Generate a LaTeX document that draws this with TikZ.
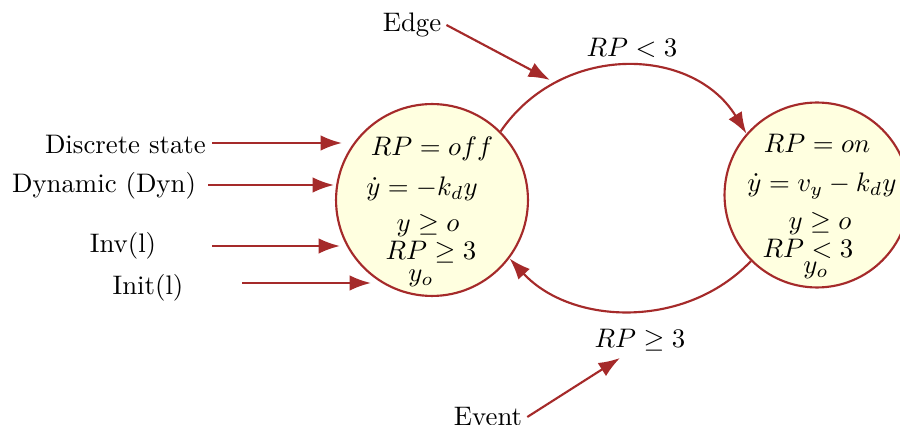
\documentclass[tikz,border=0pt]{standalone}
\usetikzlibrary{arrows.meta}
\definecolor{edgecol}{HTML}{A52A2A}
\definecolor{statefill}{HTML}{FFFFE0}
\begin{document}
\begin{tikzpicture}[x=0.3731pt,y=-0.3731pt,
  statebox/.style={circle,draw=edgecol,fill=statefill,line width=0.8pt,inner sep=0pt},
  conn/.style={draw=edgecol,line width=0.8pt,-{Latex[length=8pt,width=5.8pt]}},
  lbl/.style={inner sep=1pt},
  inlbl/.style={inner sep=0pt,font=\fontsize{10.3}{12}\selectfont}]
\useasboundingbox (0,0) rectangle (900,425);
% states
\node[statebox,minimum size=71.6pt] (L) at (432,200) {};
\node[statebox,minimum size=69pt] (R) at (817,195) {};
% left state contents
\node[inlbl] (l1) at (432,149) {$RP = off$};
\node[inlbl] (l2) at (422,189) {$\dot y = -k_d y$};
\node[inlbl] (l3) at (428,226) {$y \geq o$};
\node[inlbl] (l4) at (431,252) {$RP \geq 3$};
\node[inlbl] (l5) at (421,278) {$y_o$};
% right state contents
\node[inlbl] (r1) at (817,143) {$RP = on$};
\node[inlbl] (r2) at (822,186) {$\dot y = v_y - k_d y$};
\node[inlbl] (r3) at (820,224) {$y \geq o$};
\node[inlbl] (r4) at (808,249) {$RP < 3$};
\node[inlbl] (r5) at (816,270) {$y_o$};
% transitions
\draw[conn] (L.45) .. controls (562,42) and (693,46) .. (R.139);
\draw[conn] (R.225) .. controls (685,330) and (571,325) .. (L.-37);
\node[lbl] (g1) at (632,48) {$RP < 3$};
\node[lbl] (g2) at (640,340) {$RP \geq 3$};
% annotations
\node[lbl] (edge) at (412,25) {Edge};
\coordinate (edgeend) at (550,80);
\draw[conn] (edge.east) ++(2,0) -- (edgeend);
\node[lbl] (event) at (488,417) {Event};
\coordinate (eventend) at (620,358);
\draw[conn] (event.east) ++(2,0) -- (eventend);
\node[lbl,anchor=east] (ds) at (209,144) {Discrete state};
\coordinate (dsend) at (342,143);
\draw[conn] (212,143) -- (dsend);
\node[lbl] (dyn) at (104,186) {Dynamic (Dyn)};
\coordinate (dynend) at (334,185);
\draw[conn] (208,185) -- (dynend);
\node[lbl] (inv) at (123,246) {Inv(l)};
\coordinate (invend) at (340,246);
\draw[conn] (212,246) -- (invend);
\node[lbl] (init) at (148,288) {Init(l)};
\coordinate (initend) at (371,283);
\draw[conn] (242,283) -- (initend);
\end{tikzpicture}
\end{document}
